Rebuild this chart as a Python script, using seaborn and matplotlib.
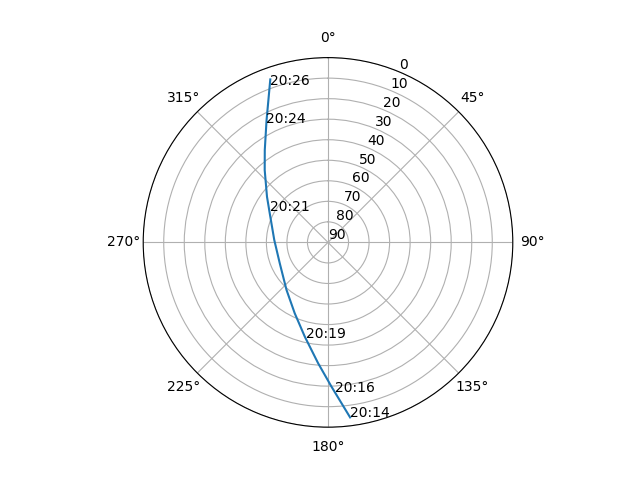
import numpy as np
import matplotlib
matplotlib.use("Agg")
import matplotlib.pyplot as plt
import seaborn as sns

# Satellite pass track: azimuth (deg, clockwise from north) and elevation (deg)
track_az = [172.8, 178.65, 184.7, 193.9, 205.2, 221.2, 246.6, 272.6,
            296.5, 306.8, 318.8, 325.6, 333.3, 340.5]
track_el = [4.1, 19.8, 31.0, 42.8, 51.9, 59.3, 64.4, 63.8,
            58.3, 52.9, 43.2, 35.5, 23.4, 5.8]

# Time labels along the track
label_text = ["20:14", "20:16", "20:19", "20:21", "20:24", "20:26"]
label_az = [172.8, 177.4, 193.3, 298.5, 332.7, 339.7]
label_el = [4.2, 17.3, 42.4, 57.7, 24.5, 8.4]

r_ticks = [0, 10, 20, 30, 40, 50, 60, 70, 80, 90]

fig = plt.figure(figsize=(6.4, 4.8), dpi=100)
ax = fig.add_subplot(111, projection="polar")
ax.set_theta_zero_location("N")
ax.set_theta_direction(-1)

sns.lineplot(x=np.radians(track_az), y=track_el, ax=ax, sort=False,
             color="#1f77b4", linewidth=1.5)

for t, a, e in zip(label_text, label_az, label_el):
    ax.text(np.radians(a), e, t, fontsize=10)

ax.set_rticks(r_ticks)
ax.set_rlim(90, 0)
ax.set_xlabel("")
ax.set_ylabel("")
ax.grid(True)

fig.savefig("out.png", dpi=100)
